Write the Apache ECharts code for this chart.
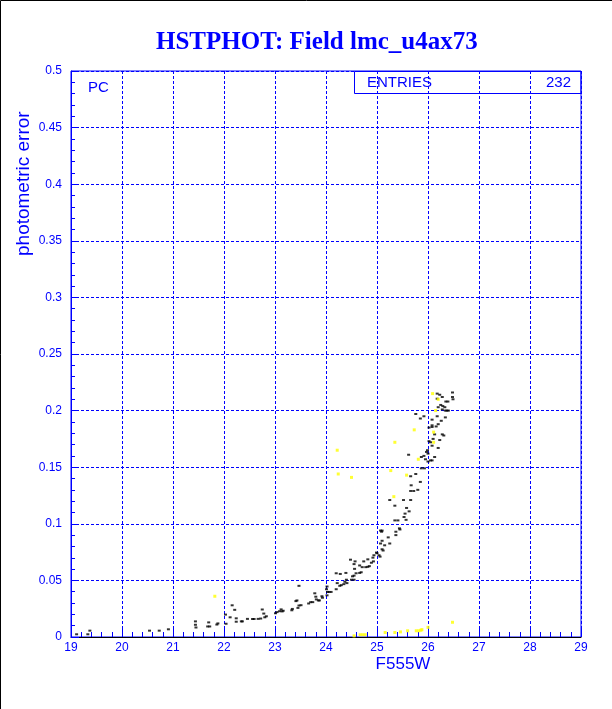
<!DOCTYPE html>
<html>
<head>
<meta charset="utf-8">
<script src="https://cdn.jsdelivr.net/npm/echarts@6/dist/echarts.min.js"></script>
<style>
html,body{margin:0;padding:0;background:#fff;}
#chart{width:612px;height:709px;}
</style>
</head>
<body>
<div id="chart"></div>
<script>
// ---- data ----
var xTicks = [19,20,21,22,23,24,25,26,27,28,29];
var yTicks = [0,0.05,0.1,0.15,0.2,0.25,0.3,0.35,0.4,0.45,0.5];

var blackMag = [
19.11,19.33,19.37,20.54,20.73,20.91,21.44,21.44,21.45,21.68,21.70,21.72,21.86,21.88,
22.03,22.04,22.12,22.16,22.21,22.24,22.24,22.34,22.36,22.46,22.56,22.59,22.67,22.72,22.75,22.78,22.80,22.83,
23.01,23.04,23.09,23.12,23.14,23.16,23.33,23.34,23.41,23.43,23.45,23.47,23.51,23.47,23.66,23.70,23.74,23.78,23.80,23.81,23.85,23.87,23.92,23.93,
24.01,24.02,24.03,24.02,24.06,24.10,24.20,24.22,24.27,24.30,24.35,24.37,24.40,24.41,24.20,24.28,24.39,24.50,24.55,24.48,24.52,24.55,24.56,24.55,24.57,24.59,
24.66,24.69,24.66,24.71,24.74,24.78,24.82,24.85,24.82,24.89,24.93,24.92,24.94,24.99,25.04,25.06,25.00,
25.07,25.10,25.15,25.10,25.25,25.12,25.22,25.09,25.07,25.10,25.37,25.37,25.45,25.44,25.35,25.41,25.53,25.55,25.57,25.63,25.58,25.35,25.25,25.52,25.66,
25.80,25.66,25.72,25.85,25.67,25.66,25.76,25.87,25.93,26.00,26.08,26.05,26.13,25.95,25.92,25.87,25.62,26.00,25.99,25.97,
26.20,26.08,26.05,26.10,26.02,26.23,26.13,26.28,26.31,26.02,26.08,26.08,26.16,26.20,26.26,26.34,26.18,26.08,25.85,25.92,25.76,
26.28,26.40,26.34,26.37,26.20,26.25,26.29,26.33,26.18,26.35,26.39,26.49,26.48,26.48,26.28,26.23,26.18
];
var blackErr = [
0.0024,0.0024,0.0056,0.0056,0.0056,0.0068,0.0138,0.0108,0.0084,0.0093,0.0129,0.0093,0.0110,0.0120,
0.0198,0.0117,0.0174,0.0280,0.0240,0.0165,0.0135,0.0138,0.0138,0.0160,0.0159,0.0159,0.0160,0.0163,0.0243,0.0207,0.0174,0.0183,
0.0210,0.0220,0.0228,0.0244,0.0226,0.0232,0.0236,0.0248,0.0317,0.0323,0.0257,0.0278,0.0281,0.0452,0.0296,0.0308,0.0308,0.0386,0.0356,0.0332,0.0323,0.0323,0.0360,0.0347,
0.0422,0.0446,0.0398,0.0368,0.0398,0.0398,0.0422,0.0476,0.0452,0.0458,0.0467,0.0488,0.0506,0.0476,0.0563,0.0557,0.0566,0.0506,0.0506,0.0683,0.0536,0.0542,0.0602,0.0644,0.0668,0.0563,
0.0566,0.0572,0.0632,0.0617,0.0668,0.0617,0.0620,0.0626,0.0686,0.0656,0.0668,0.0701,0.0722,0.0746,0.0722,0.0710,0.0740,
0.0826,0.0850,0.0810,0.0775,0.0826,0.0764,0.0880,0.0930,0.0940,0.0940,0.0930,0.0900,0.0950,0.0960,0.1030,0.1030,0.1060,0.1090,0.1035,0.1110,0.1140,0.1160,0.1210,0.1210,0.1210,
0.1300,0.1290,0.1290,0.1370,0.1340,0.1420,0.1440,0.1490,0.1490,0.1550,0.1560,0.1560,0.1590,0.1570,0.1600,0.1590,0.1610,0.1620,0.1650,0.1635,
0.1670,0.1690,0.1720,0.1750,0.1730,0.1740,0.1790,0.1790,0.1780,0.1850,0.1870,0.1855,0.1860,0.1880,0.1910,0.1940,0.1950,0.1920,0.1930,0.1950,0.1970,
0.2010,0.2000,0.2000,0.2000,0.2030,0.2050,0.2040,0.2030,0.2105,0.2080,0.2080,0.2100,0.2120,0.2160,0.2120,0.2140,0.2150
];
var yellowMag = [21.82,24.22,24.24,24.50,25.33,25.27,25.58,25.35,25.73,25.81,26.11,26.11,26.15,26.20,26.09,
24.55,24.67,24.72,24.77,25.16,25.35,25.46,25.60,25.77,25.82,25.86,25.88,26.00,26.48];
var yellowErr = [0.036,0.165,0.144,0.141,0.124,0.147,0.143,0.172,0.183,0.157,0.172,0.181,0.200,0.210,0.215,
0.001,0.002,0.002,0.002,0.004,0.004,0.0045,0.0055,0.0055,0.0055,0.006,0.0065,0.0085,0.013];

var titleText = 'HSTPHOT: Field lmc_u4ax73';
var xName = 'F555W';
var yName = 'photometric error';
var entriesLabel = 'ENTRIES';
var entriesValue = '232';

function pairs(a, b){ var r=[]; for (var i=0;i<a.length;i++) r.push([a[i], b[i]]); return r; }

var BLUE = '#0000ff';
var chart = echarts.init(document.getElementById('chart'), null, {renderer:'canvas'});
chart.setOption({
  animation:false,
  backgroundColor:'#ffffff',
  title:{
    text:titleText, left:151, top:25,
    textStyle:{fontFamily:'Liberation Serif', fontWeight:'bold', fontSize:25, color:BLUE}
  },
  grid:{left:71, right:31, top:71, bottom:72, show:true, borderColor:BLUE, borderWidth:1, backgroundColor:'transparent'},
  xAxis:{
    type:'value', min:xTicks[0], max:xTicks[xTicks.length-1], interval:1,
    axisLine:{show:true, lineStyle:{color:'#000000', width:1}},
    axisTick:{show:true, inside:true, length:9, lineStyle:{color:BLUE}},
    minorTick:{show:true, splitNumber:5, length:5, lineStyle:{color:BLUE}},
    axisLabel:{color:BLUE, fontFamily:'Liberation Sans', fontSize:12, margin:5},
    splitLine:{show:true, lineStyle:{color:BLUE, type:[3,2], width:1}}
  },
  yAxis:{
    type:'value', min:yTicks[0], max:yTicks[yTicks.length-1], interval:0.05,
    axisLine:{show:true, lineStyle:{color:BLUE, width:1}},
    axisTick:{show:true, inside:true, length:8, lineStyle:{color:BLUE}},
    minorTick:{show:true, splitNumber:5, length:4, lineStyle:{color:BLUE}},
    axisLabel:{color:BLUE, fontFamily:'Liberation Sans', fontSize:12, margin:9,
      formatter:function(v){ return String(parseFloat(v.toFixed(3))); }},
    splitLine:{show:true, lineStyle:{color:BLUE, type:[3,2], width:1}}
  },
  series:[
    {type:'scatter', data:pairs(blackMag, blackErr), symbol:'rect', symbolSize:[3,2],
     itemStyle:{color:'#000000'}, silent:true},
    {type:'scatter', data:pairs(yellowMag, yellowErr), symbol:'rect', symbolSize:[3,3],
     itemStyle:{color:'#ffff00'}, silent:true}
  ],
  graphic:[
    {type:'polyline', shape:{points:[[0.5,709],[0.5,0.5],[612,0.5]]}, style:{stroke:'#000', lineWidth:1, fill:null}, silent:true},
    {type:'rect', shape:{x:354.5, y:71.5, width:226.5, height:22}, style:{stroke:BLUE, fill:null, lineWidth:1}, z:10},
    {type:'text', x:367, y:83, style:{text:entriesLabel, fill:BLUE, font:'15px "Liberation Sans"', textVerticalAlign:'middle'}, z:10},
    {type:'text', x:571, y:83, style:{text:entriesValue, fill:BLUE, font:'15px "Liberation Sans"', textAlign:'right', textVerticalAlign:'middle'}, z:10},
    {type:'text', x:88, y:88, style:{text:'PC', fill:BLUE, font:'15px "Liberation Sans"', textVerticalAlign:'middle'}, z:10},
    {type:'text', x:403, y:664, style:{text:xName, fill:BLUE, font:'17px "Liberation Sans"', textAlign:'center', textVerticalAlign:'middle'}, z:10},
    {type:'text', x:24, y:256, rotation:Math.PI/2, style:{text:yName, fill:BLUE, font:'19px "Liberation Sans"', textAlign:'left', textVerticalAlign:'middle'}, z:10}
  ]
});
</script>
</body>
</html>
